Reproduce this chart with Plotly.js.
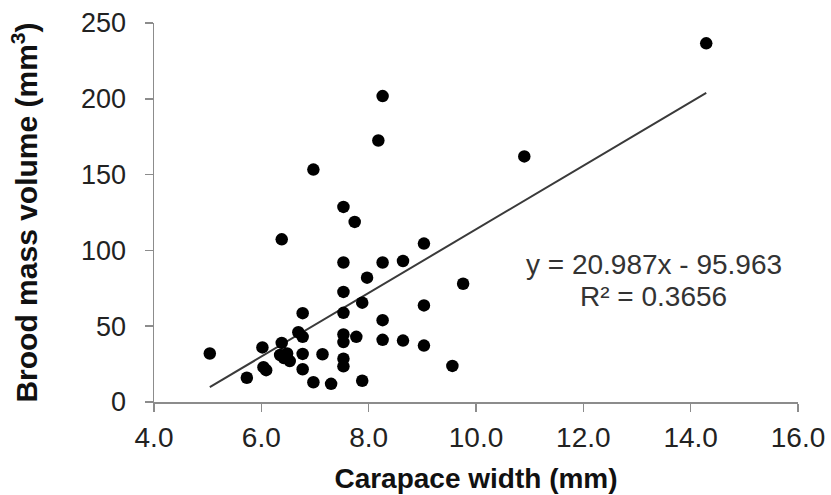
<!DOCTYPE html>
<html>
<head>
<meta charset="utf-8">
<script src="https://cdn.plot.ly/plotly-3.0.1.min.js"></script>
<style>html,body{margin:0;padding:0;background:#fff;}#chart{width:831px;height:495px;}</style>
</head>
<body>
<div id="chart"></div>
<script>
// Carapace width (mm)
var carapaceWidth = [
  5.04, 5.73, 6.02, 6.04, 6.09, 6.38, 6.35, 6.48, 6.53, 6.42,
  6.69, 6.77, 6.77, 6.77, 6.77, 6.97, 7.14, 7.30, 7.53, 7.53,
  7.53, 7.77, 7.53, 7.53, 7.88, 7.88, 9.03, 7.53, 8.26, 8.64,
  7.97, 9.76, 7.53, 9.03, 8.26, 8.26, 8.64, 9.03, 9.56, 6.38,
  6.97, 7.53, 7.74, 8.18, 8.26, 10.90, 14.29
];
// Brood mass volume (mm^3)
var broodVolume = [
  32, 16, 36, 23, 21, 39, 31, 32, 27, 29,
  46, 43, 58.6, 31.7, 21.6, 13, 31.5, 12, 58.8, 44.5,
  39.5, 43, 28.5, 23.5, 14, 65.5, 104.5, 92, 92, 93,
  82, 78, 72.6, 63.7, 54, 41, 40.5, 37.2, 23.8, 107.3,
  153.3, 128.7, 118.8, 172.5, 201.8, 162, 236.6
];
// Linear trendline reported on the chart
var slope = 20.987;
var intercept = -95.963;
var equationText = "y = 20.987x - 95.963";
var r2Text = "R² = 0.3656";
var xTicks = [4, 6, 8, 10, 12, 14, 16];
var xTickLabels = ["4.0", "6.0", "8.0", "10.0", "12.0", "14.0", "16.0"];
var yTicks = [0, 50, 100, 150, 200, 250];

var xMin = Math.min.apply(null, carapaceWidth);
var xMax = Math.max.apply(null, carapaceWidth);
var trendX = [xMin, xMax];
var trendY = trendX.map(function (x) { return slope * x + intercept; });

var font = "Liberation Sans, Arial, sans-serif";
var data = [
  {
    x: trendX, y: trendY, type: "scatter", mode: "lines",
    line: { color: "#3a3a3a", width: 2 }, hoverinfo: "skip", showlegend: false
  },
  {
    x: carapaceWidth, y: broodVolume, type: "scatter", mode: "markers",
    marker: { color: "#000", size: 12.5 }, showlegend: false
  }
];

var layout = {
  width: 831, height: 495,
  margin: { l: 154, r: 33, t: 23, b: 93 },
  paper_bgcolor: "#fff", plot_bgcolor: "#fff",
  font: { family: font, color: "#222" },
  xaxis: {
    range: [4, 16], tickvals: xTicks, ticktext: xTickLabels,
    showgrid: false, zeroline: false, showline: true, linecolor: "#8c8c8c", linewidth: 1.5,
    ticks: "outside", ticklen: 8, tickcolor: "#8c8c8c", tickwidth: 1.5,
    tickfont: { size: 28, family: font, color: "#222" },
    ticklabelstandoff: 2,
    title: { text: "<b>Carapace width (mm)</b>", font: { size: 28, family: font, color: "#111" }, standoff: 16 },
    automargin: false
  },
  yaxis: {
    range: [0, 250], tickvals: yTicks,
    showgrid: false, zeroline: false, showline: true, linecolor: "#8c8c8c", linewidth: 1.5,
    ticks: "outside", ticklen: 8, tickcolor: "#8c8c8c", tickwidth: 1.5,
    tickfont: { size: 27, family: font, color: "#222" },
    ticklabelstandoff: 13,
    title: { text: "<b>Brood mass volume (mm<sup>3</sup>)</b>", font: { size: 30, family: font, color: "#111" }, standoff: 34 },
    automargin: false
  },
  annotations: [
    { x: 13.31, y: 90.5, xref: "x", yref: "y", text: equationText, showarrow: false,
      font: { size: 28, family: font, color: "#333" }, xanchor: "center", yanchor: "middle" },
    { x: 13.31, y: 69.4, xref: "x", yref: "y", text: r2Text, showarrow: false,
      font: { size: 28, family: font, color: "#333" }, xanchor: "center", yanchor: "middle" }
  ]
};

Plotly.newPlot("chart", data, layout, { displayModeBar: false, staticPlot: true });
</script>
</body>
</html>
